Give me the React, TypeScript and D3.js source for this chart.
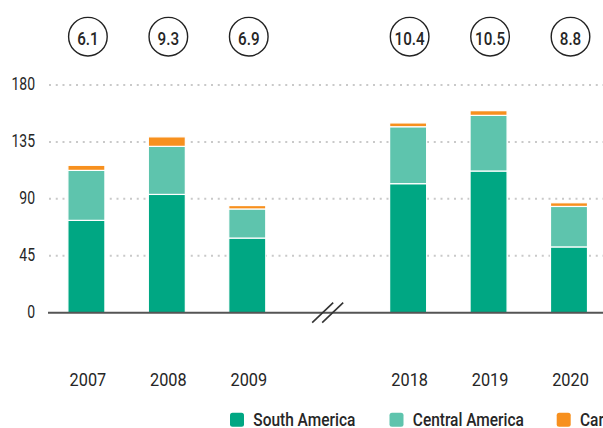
import React from "react";
import * as d3 from "d3";

const years = ["2007", "2008", "2009", "2018", "2019", "2020"];
const southAmerica = [73, 93.5, 59, 102, 112, 52];
const centralAmerica = [39.5, 38, 23, 45, 44, 32];
const caribbean = [4, 7.5, 2.7, 3, 3.7, 2.9];
const circleValues = ["6.1", "9.3", "6.9", "10.4", "10.5", "8.8"];
const yTicks = [0, 45, 90, 135, 180];
const seriesNames = ["South America", "Central America", "Caribbean"];
const colors = ["#00a783", "#5ec4ad", "#f7901e"];

const W = 603;
const H = 428;
const FONT = "Roboto, 'Liberation Sans', sans-serif";

function CText(props: {
  x: number;
  y: number;
  sx: number;
  anchor?: string;
  size: number;
  weight?: string | number;
  children: React.ReactNode;
}) {
  return (
    <text
      transform={`translate(${props.x},${props.y}) scale(${props.sx},1)`}
      textAnchor={props.anchor || "start"}
      fontFamily={FONT}
      fontSize={props.size}
      fontWeight={props.weight || "normal"}
      fill="#262626"
    >
      {props.children}
    </text>
  );
}

export default function App() {
  const slots = ["2007", "2008", "2009", "break", "2018", "2019", "2020"];
  const x = d3.scalePoint<string>().domain(slots).range([86.4, 569]);
  const y = d3.scaleLinear().domain([0, 180]).range([312.7, 85]);
  const barW = 37;

  const rows = years.map((yr, i) => ({
    year: yr,
    s: southAmerica[i],
    c: centralAmerica[i],
    k: caribbean[i],
  }));
  const stack = d3.stack<any>().keys(["s", "c", "k"]);
  const series = stack(rows);

  const axisX0 = 48;
  const breakX = x("break") as number;
  const y0 = y(0);

  const legendSquares = [230, 389.5, 556.7];

  return (
    <svg
      width={W}
      height={H}
      style={{ position: "absolute", left: 0, top: 0, background: "#fff" }}
    >
      {yTicks
        .filter((t) => t > 0)
        .map((t) => (
          <line
            key={"g" + t}
            x1={axisX0 + 1}
            x2={W}
            y1={y(t)}
            y2={y(t)}
            stroke="#c9c9c9"
            strokeWidth={2}
            strokeDasharray="2 4.75"
          />
        ))}
      {yTicks.map((t) => (
        <CText key={"t" + t} x={35} y={y(t) + 4.8} sx={0.8} anchor="end" size={17.5}>
          {t}
        </CText>
      ))}
      {series.map((ser, si) =>
        ser.map((d: any, i: number) => {
          const cx = x(rows[i].year) as number;
          return (
            <rect
              key={si + "-" + i}
              x={cx - barW / 2}
              width={barW}
              y={y(d[1])}
              height={y(d[0]) - y(d[1])}
              fill={colors[si]}
              stroke="#ffffff"
              strokeWidth={1.2}
            />
          );
        })
      )}
      <line x1={axisX0} x2={W} y1={y0} y2={y0} stroke="#555" strokeWidth={2} />
      {[-5, 5].map((o) => (
        <line
          key={"b" + o}
          x1={breakX + o - 10.5}
          y1={y0 + 10}
          x2={breakX + o + 10.5}
          y2={y0 - 10}
          stroke="#333"
          strokeWidth={1.6}
        />
      ))}
      {years.map((yr, i) => {
        const cx = (x(yr) as number) + 1.5;
        return (
          <g key={"c" + yr}>
            <circle cx={cx} cy={36.7} r={19.3} fill="#fff" stroke="#222" strokeWidth={1.4} />
            <CText x={cx} y={44.5} sx={0.8} anchor="middle" size={19} weight={500}>
              {circleValues[i]}
            </CText>
          </g>
        );
      })}
      {years.map((yr) => (
        <CText key={"y" + yr} x={(x(yr) as number) + 1.5} y={386} sx={0.88} anchor="middle" size={18.5}>
          {yr}
        </CText>
      ))}
      {seriesNames.map((name, i) => (
        <g key={"l" + name}>
          <rect
            x={legendSquares[i]}
            y={412.7}
            width={14}
            height={14}
            rx={2.5}
            fill={colors[i]}
          />
          <CText x={legendSquares[i] + 23.3} y={426} sx={0.86} size={18} weight={500}>
            {name}
          </CText>
        </g>
      ))}
    </svg>
  );
}
